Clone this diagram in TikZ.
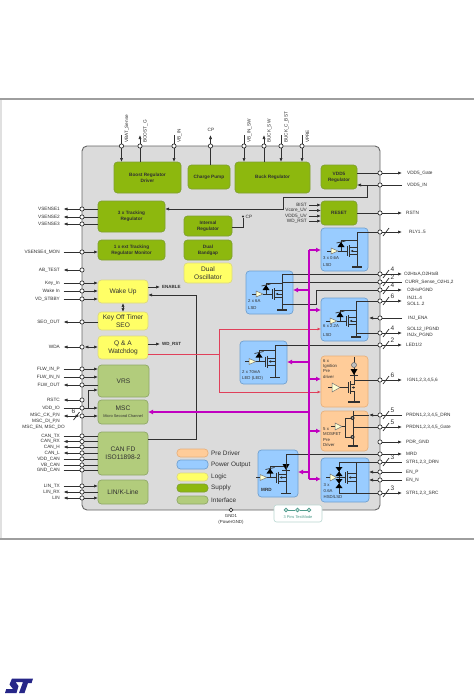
\documentclass[tikz,border=0pt]{standalone}
\usepackage{fontspec}
\setmainfont{Liberation Sans}
\usetikzlibrary{arrows.meta}
\definecolor{ln}{HTML}{303030}
\definecolor{mag}{HTML}{C000C0}
\definecolor{redl}{HTML}{E0405A}
\definecolor{gfill}{HTML}{8DB80E}\definecolor{gedge}{HTML}{7FA030}
\definecolor{yfill}{HTML}{FFFF66}\definecolor{yedge}{HTML}{DCD880}
\definecolor{ifill}{HTML}{B2CC7C}\definecolor{iedge}{HTML}{8FA868}
\definecolor{bfill}{HTML}{99CCFF}\definecolor{bedge}{HTML}{6FA0D0}
\definecolor{ofill}{HTML}{FFCC99}\definecolor{oedge}{HTML}{E8B07C}
\definecolor{teal1}{HTML}{4F9C8C}
\tikzset{
 x=1pt,y=-1pt,
 lbl/.style={font=\fontsize{4.7}{5.4}\selectfont,text=ln,inner sep=0pt,align=left},
 blab/.style={font=\fontsize{4.3}{5.4}\selectfont,text=ln,inner sep=0pt,align=left,anchor=west},
 num/.style={font=\fontsize{6.5}{7}\selectfont,text=ln,inner sep=0pt},
 pinc/.style={circle,draw=ln,fill=white,line width=.7pt,minimum size=4.2pt,inner sep=0pt},
 wire/.style={draw=ln,line width=.7pt},
 io/.style={wire,-{Latex[length=4pt,width=3.2pt]}},
 iob/.style={wire,{Latex[length=4pt,width=3.2pt]}-{Latex[length=4pt,width=3.2pt]}},
 bus/.style={draw=ln,line width=1pt},
 busa/.style={bus,-{Latex[length=4pt,width=3.2pt]}},
 magl/.style={draw=mag,line width=1.5pt},
 maga/.style={magl,-{Latex[length=5pt,width=5pt]}},
 redw/.style={draw=redl,line width=.8pt},
 reda/.style={redw,-{Latex[length=3.5pt,width=3pt]}},
 blkbase/.style={rounded corners=3.5pt,line width=.7pt,inner sep=0pt,outer sep=0pt,align=center},
 sup/.style={blkbase,fill=gfill,draw=gedge,font=\fontsize{4.7}{6}\selectfont\bfseries,text=ln},
 logic/.style={blkbase,fill=yfill,draw=yedge,font=\fontsize{6.6}{8}\selectfont,text=ln},
 intf/.style={blkbase,fill=ifill,draw=iedge,font=\fontsize{6.6}{8}\selectfont,text=ln},
 pwr/.style={blkbase,fill=bfill,draw=bedge},
 pre/.style={blkbase,fill=ofill,draw=oedge},
 fetl/.style={draw=ln,line width=.7pt},
 lsd/.pic={
  \draw[fill=yfill!30,draw=black!55,line width=.5pt] (10,20)--(17,23)--(10,26)--cycle;
  \draw[fetl] (6,23)--(10,23) (17,23)--(26,23) (26,18)--(26,28);
  \draw[ln,line width=1pt] (28,17)--(28,29);
  \draw[fetl] (28,19.5)--(36,19.5) (28,26.5)--(36,26.5) (36,17)--(36,39);
  \draw[fetl,-{Latex[length=2.5pt,width=2.5pt]}] (36,23)--(29.5,23);
  \draw[fetl] (20,23)--(20,12)--(36,12);
  \fill[black] (16.5,19)--(23.5,19)--(20,14)--cycle;
  \draw[fetl] (15.5,15)--(24.5,13);
  \draw[ln,line width=1.4pt] (31,39)--(41,39);
  \coordinate (-d) at (36,17);
  \coordinate (-s) at (36,33);
  \coordinate (-m) at (36,26);
 },
 ignsym/.pic={
  \draw[fill=yfill!30,draw=black!55,line width=.5pt] (11,27)--(19,31.5)--(11,36)--cycle;
  \draw[fetl] (7,31.5)--(11,31.5) (19,31.5)--(27,31.5) (27,26)--(27,37);
  \draw[ln,line width=1pt] (29,25)--(29,38);
  \draw[fetl] (29,28)--(33,28)--(33,1) (29,35)--(33,35)--(33,46);
  \draw[fetl,-{Latex[length=2.5pt,width=2.5pt]}] (33,31.5)--(30.5,31.5);
  \fill[black] (29.5,13)--(36.5,13)--(33,19)--cycle;
  \draw[fetl] (29,19.5)--(37,19.5);
  \node[circle,draw=black!60,fill=black!25,line width=.5pt,minimum size=5pt,inner sep=0pt] at (33,9) {};
  \draw[ln,line width=1.4pt] (27,46)--(39,46);
  \coordinate (-d) at (33,24);
 },
 prsym/.pic={
  \draw[fill=yfill!30,draw=black!55,line width=.5pt] (14,12)--(21,15.5)--(14,19)--cycle;
  \draw[fetl] (10,15.5)--(14,15.5) (21,15.5)--(24,15.5);
  \draw[fetl] (24,7)--(24,26) (24,7)--(31,7) (24,26)--(31,26);
  \draw[fetl] (32,0)--(32,35);
  \fill[ln] (31.5,7) circle (2pt) (31.5,26) circle (2pt);
  \fill[white] (31.5,7) circle (.7pt) (31.5,26) circle (.7pt);
  \draw[ln,line width=1.4pt] (27,35)--(37,35);
  \coordinate (-t) at (32,4);
  \coordinate (-c) at (32,16);
 },
 strsym/.pic={
  \draw[fill=yfill!30,draw=black!55,line width=.5pt] (9,16)--(15.5,19.5)--(9,23)--cycle;
  \draw[fetl] (5,19.5)--(9,19.5) (15.5,19.5)--(24,19.5) (24,14)--(24,25);
  \draw[ln,line width=1pt] (26,13)--(26,26);
  \draw[fetl] (18,4)--(18,35) (35,4)--(35,35);
  \draw[fetl] (26,15.5)--(35,15.5) (26,23.5)--(35,23.5);
  \draw[fetl,-{Latex[length=2.5pt,width=2.5pt]}] (35,19.5)--(27.5,19.5);
  \fill[black] (14.5,9)--(21.5,9)--(18,13.5)--cycle (14.5,18)--(21.5,18)--(18,13.5)--cycle;
  \fill[black] (14.5,21)--(21.5,21)--(18,25.5)--cycle (14.5,30)--(21.5,30)--(18,25.5)--cycle;
  \coordinate (-t) at (18,4);
  \coordinate (-b) at (18,35);
 },
}
\newcommand\blk[7]{\node[#6,minimum width={(#4-#2)*1pt},minimum height={(#5-#3)*1pt}] (#1) at ({(#2+#4)/2},{(#3+#5)/2}) {#7};}
\newcommand\lpin[3]{\node[pinc] (#1) at (82,#2) {};\node[lbl,anchor=east] (#1t) at (60,#2) {#3};\coordinate (#1e) at (63.5,#2);}
\newcommand\rpin[4]{\node[pinc] (#1) at (380,#2) {};\node[lbl,anchor=west] (#1t) at (#3,#2) {#4};\coordinate (#1e) at (402,#2);\coordinate (#1i) at (369,#2);}
\newcommand\tpin[3]{\node[pinc] (#1) at (#2,146) {};\node[lbl,rotate=90,anchor=west] (#1t) at (#2+5.5,143) {#3};\coordinate (#1e) at (#2,135);}
\newcommand\pinbar[2]{\draw[wire] ([shift={(3,4)}]#1.center) -- ([shift={(9,-4)}]#1.center);\node[num] (#1n) at ([shift={(12.5,-5)}]#1.center) {#2};}
\begin{document}
\begin{tikzpicture}
\useasboundingbox (0,0) rectangle (474,699);
\fill[white] (0,0) rectangle (474,699);
\fill[black!12] (0,99) rectangle (2,539);
\draw[black!38,line width=1.3pt] (0,99) -- (474,99);
\draw[black!38,line width=1.3pt] (0,539) -- (474,539);
% main body
\node[rounded corners=5pt,fill=black!14,draw=black!60,line width=.9pt,minimum width=298pt,minimum height=364pt,inner sep=0pt,outer sep=0pt] (body) at (231,328) {};
% blocks
\blk{boost}{114}{162}{181}{193}{sup}{Boost Regulator\\Driver}
\blk{pump}{188}{165}{230}{189}{sup}{Charge Pump}
\blk{buck}{235}{162}{310}{193}{sup}{Buck Regulator}
\blk{vdd}{321}{165}{357}{189}{sup}{VDD5\\Regulator}
\blk{reset}{321}{201}{357}{225}{sup}{RESET}
\blk{trk}{98}{201}{165}{232}{sup}{3 x Tracking\\Regulator}
\blk{intr}{184}{216}{232}{236}{sup}{Internal\\Regulator}
\blk{mon}{98}{240}{165}{260}{sup}{1 x ext Tracking\\Regulator Monitor}
\blk{gap}{184}{240}{232}{260}{sup}{Dual\\Bandgap}
\blk{osc}{184}{263}{232}{283}{logic}{Dual\\Oscillator}
\blk{wake}{98}{280}{148}{303}{logic}{Wake Up}
\blk{key}{98}{312}{148}{330}{logic}{Key Off Timer\\SEO}
\blk{qa}{98}{336}{148}{359}{logic}{Q \& A\\Watchdog}
\blk{vrs}{98}{365}{149}{397}{intf}{VRS}
\blk{msc}{98}{400}{148}{424}{intf}{MSC\\[-1pt]{\fontsize{3.9}{4.5}\selectfont Micro Second Channel}}
\blk{can}{98}{432}{148}{475}{intf}{CAN FD\\ISO11898-2}
\blk{lin}{98}{480}{148}{504}{intf}{LIN/K-Line}
\blk{rly}{321}{228}{368}{271}{pwr}{}
\blk{lsda}{246}{271}{293}{314}{pwr}{}
\blk{inj}{321}{298}{368}{341}{pwr}{}
\blk{led}{240}{341}{287}{384}{pwr}{}
\blk{ign}{321}{356}{368}{407}{pre}{}
\blk{prd}{321}{411}{368}{451}{pre}{}
\blk{mrd}{258}{450}{298}{497}{pwr}{}
\blk{str}{321}{458}{369}{502}{pwr}{}
% legend
\foreach \n/\a/\b/\s/\t in {la/449/457/pre/Pre Driver,lb/460/469/pwr/Power Output,lc/473/481/logic/Logic,ld/484/492/sup/Supply,le/496/504/intf/Interface}{
 \blk{\n}{177}{\a}{208}{\b}{\s}{}
 \node[anchor=west,inner sep=0pt,font=\fontsize{6.4}{7}\selectfont,text=ln] (\n t) at (211,{(\a+\b)/2}) {\t};
}
% test mode
\node[rounded corners=2.5pt,draw=teal1!40,fill=white,line width=.6pt,minimum width=48pt,minimum height=17pt,inner sep=0pt] (tm) at (298,513.5) {};
\node[font=\fontsize{3.9}{4.5}\selectfont,text=teal1,inner sep=0pt] (tmt) at (298,517.5) {3 Pins TestMode};
\foreach \n/\x in {tma/286,tmb/297.5,tmc/309}{\node[pinc,draw=teal1,fill=white!70!teal1,minimum size=3.6pt] (\n) at (\x,510) {};}
\draw[draw=teal1,line width=.5pt] (tma)--(tmb) (tmb)--(tmc);
% symbols
\pic (rs) at (321,228) {lsd};
\pic (ls) at (246,271) {lsd};
\pic (js) at (320,298) {lsd};
\pic (es) at (239,338.5) {lsd};
\pic (ms) at (250,454.5) {lsd};
\pic (gs) at (321,356) {ignsym};
\pic (ps) at (321,411) {prsym};
\pic (ss) at (321,458) {strsym};
\fill[black] (282.5,464) -- (289.5,464) -- (286,470) -- cycle;
\draw[fetl] (282,470.5)--(290,470.5);
% box captions
\node[blab] at (323,258) {3 x 0.6A};\node[blab] at (323,265) {LSD};
\node[blab] at (248,301) {2 x 6A};\node[blab] at (248,308) {LSD};
\node[blab] at (323,326) {6 x 2.2A};\node[blab] at (323,335) {LSD};
\node[blab] at (242,372) {2 x 70mA};\node[blab] at (242,378.5) {LED (LED)};
\node[blab] at (323,361) {6 x};\node[blab] at (323,366) {Ignition};\node[blab] at (323,371.5) {Pre};\node[blab] at (323,377) {driver};
\node[blab] at (323,429) {5 x};\node[blab] at (323,434.5) {MOSFET};\node[blab] at (323,440) {Pre};\node[blab] at (323,445) {Driver};
\node[blab] at (323.5,485) {3 x};\node[blab] at (323.5,491) {0.6A};\node[blab] at (323.5,496.5) {HSD/LSD};
\node[blab,font=\fontsize{4.6}{5}\selectfont\bfseries] at (261,490) {MRD};
% top pins
\tpin{ta}{121.5}{VBAT\_Sense}\tpin{tb}{140}{BOOST\_G}\tpin{tc}{174}{VB\_IN}
\node[pinc] (td) at (210.5,146) {};\coordinate (tde) at (210.5,135);\node[lbl] (tdt) at (211,130) {CP};
\tpin{te}{244}{VB\_IN\_SW}\tpin{tf}{264}{BUCK\_SW}\tpin{tg}{281}{BUCK\_C\_BST}\tpin{th}{302}{VPRE}
\draw[wire] (tae)--(ta);\draw[io] (ta)--(ta|-boost.north);
\draw[wire] (tb|-boost.north)--(tb);\draw[io] (tb)--(tbe);
\draw[wire] (tce)--(tc);\draw[io] (tc)--(tc|-boost.north);
\draw[wire] (pump.north-|td)--(td);\draw[io] (td)--(tde);
\draw[wire] (tee)--(te);\draw[io] (te)--(te|-buck.north);
\draw[wire] (tf|-buck.north)--(tf);\draw[io] (tf)--(tfe);
\draw[wire] (tge)--(tg);\draw[io] (tg)--(tg|-buck.north);
\draw[wire] (the)--(th);\draw[io] (th)--(th|-buck.north);
% left pins
\lpin{va}{209}{VSENSE1}\lpin{vb}{217}{VSENSE2}\lpin{vc}{224}{VSENSE3}
\foreach \p in {va,vb,vc}{\draw[wire] (trk.west|-\p)--(\p);\draw[io] (\p)--(\p e);}
\lpin{vd}{252}{VSENSE4\_MON}\draw[wire] (vde)--(vd);\draw[io] (vd)--(mon.west|-vd);
\lpin{ab}{270}{AB\_TEST}\draw[io] (ab)--(abe);
\lpin{ka}{283}{Key\_In}\lpin{kb}{291}{Wake In}\lpin{kc}{299}{VD\_STBBY}
\foreach \p in {ka,kb,kc}{\draw[wire] (\p e)--(\p);\draw[io] (\p)--(wake.west|-\p);}
\lpin{se}{322}{SEO\_OUT}\draw[wire] (key.west|-se)--(se);\draw[io] (se)--(see);
\lpin{wd}{347}{WDA}\draw[iob] (qa.west|-wd)--(wd);\draw[io] (wd)--(wde);
\lpin{fa}{369}{FLW\_IN\_P}\lpin{fb}{377}{FLW\_IN\_N}\lpin{fc}{385}{FLW\_OUT}
\foreach \p in {fa,fb}{\draw[wire] (\p e)--(\p);\draw[io] (\p)--(vrs.west|-\p);}
\draw[wire] (vrs.west|-fc)--(fc);\draw[io] (fc)--(fce);
\lpin{rs1}{400}{RSTC}\draw[io] (rs1)--(rs1e);
\lpin{vi}{408}{VDD\_IO}\draw[wire] (vie)--(vi);
\coordinate (vj) at (88,408);\coordinate (vk) at (88,390);
\draw[io] (vi)--(msc.west|-vi);
\draw[wire] (vj)--(vk);\draw[io] (vk)--(vrs.west|-vk);
\node[pinc] (mp) at (82,416) {};\coordinate (mpe) at (63.5,416);
\node[lbl,anchor=east] (mpa) at (60,415) {MSC\_CK\_P,N};
\node[lbl,anchor=east] (mpb) at (60,421) {MSC\_DI\_P,N};
\node[lbl,anchor=east] (mpc) at (65,427) {MSC\_EN, MSC\_DO};
\draw[iob] (mpe)--(mp);\draw[io] (mp)--(msc.west|-mp);
\draw[wire] (73.5,420)--(79.5,412);\node[num] (mpn) at (73.5,411.5) {6};
\lpin{ca}{436}{CAN\_TX}\lpin{cb}{441.5}{CAN\_RX}\lpin{cc}{447}{CAN\_H}\lpin{cd}{453}{CAN\_L}\lpin{ce}{459}{VDD\_CAN}\lpin{cf}{465}{VB\_CAN}\lpin{cg}{470}{GND\_CAN}
\foreach \p in {ca,ce,cf,cg}{\draw[wire] (\p e)--(\p);\draw[wire] (\p)--(can.west|-\p);}
\foreach \p in {cb,cc,cd}{\draw[wire] (can.west|-\p)--(\p);\draw[io] (\p)--(\p e);}
\lpin{la1}{486}{LIN\_TX}\lpin{lb1}{492}{LIN\_RX}\lpin{lc1}{498}{LIN}
\draw[wire] (la1e)--(la1);\draw[io] (la1)--(lin.west|-la1);
\draw[wire] (lin.west|-lb1)--(lb1);\draw[io] (lb1)--(lb1e);
\draw[io] (lc1)--(lc1e);\draw[io] (lc1)--(lin.west|-lc1);
% right pins
\rpin{ra}{173}{407}{VDD5\_Gate}\rpin{rb}{185}{407}{VDD5\_IN}\rpin{rc}{213}{406}{RSTN}\rpin{rd}{232}{409}{RLY1..5}
\rpin{re}{274}{404}{O2HtxA,O2HtxB}\rpin{rf}{282}{405}{CURR\_Sense\_O2H1,2}\rpin{rg}{290}{407}{O2HxPGND}
\rpin{rh}{301}{407}{}\node[lbl,anchor=west] (rht) at (407,298) {INJ1..4};\node[lbl,anchor=west] (rhu) at (407,304) {SOL1..2};
\rpin{ri}{318}{408}{INJ\_ENA}
\rpin{rj}{333}{407}{}\node[lbl,anchor=west] (rjt) at (407,329.5) {SOL12\_IPGND};\node[lbl,anchor=west] (rju) at (407,335.5) {INJx\_PGND};
\rpin{rk}{345}{406}{LED1/2}\rpin{rl}{380}{407}{IGN1,2,3,4,5,6}
\rpin{rm}{415}{406}{PRDN1,2,3,4,5\_DRN}\rpin{rn}{427}{406}{PRDN1,2,3,4,5\_Gate}\rpin{ro}{442}{406}{PDR\_GND}
\rpin{rp}{454}{406}{MRD}\rpin{rq}{462}{406}{STR1,2,3\_DRN}\rpin{rr}{472}{406}{EN\_P}\rpin{rs2}{480}{406}{EN\_N}\rpin{rt}{493}{406}{STR1,2,3\_SRC}
\draw[wire] (vdd.east|-ra)--(ra);\draw[io] (ra)--(rae);
\draw[wire] (rbe)--(rb);\draw[io] (rb)--(vdd.east|-rb);
\draw[wire] (reset.east|-rc)--(rc);\draw[io] (rc)--(rce);
\draw[bus] (rd) -| (rs-d);\draw[io] (rd)--(rde);\pinbar{rd}{}
\draw[bus] (re) -| (ls-d);\draw[io] (re)--(ree);\pinbar{re}{4}
\draw[wire] (rf) -- (rf-|ls-d);\draw[wire] (rf)--(rfe);\pinbar{rf}{2}
\coordinate (rgk) at (316,290);\coordinate (rgl) at (316,304);
\draw[bus] (rg)--(rgk)--(rgl)--(rgl-|ls-s);\draw[io] (rg)--(rge);\pinbar{rg}{4}
\draw[bus] (rh) -| (js-d);\draw[io] (rh)--(rhe);\pinbar{rh}{6}
\draw[wire] (rie)--(ri);\draw[io] (ri)--(rii);
\draw[bus] (rj) -- (rj-|js-d);\draw[io] (rj)--(rje);\pinbar{rj}{4}
\draw[bus] (rk) -| (es-d);\draw[io] (rk)--(rke);\pinbar{rk}{2}
\draw[bus] (rl) -- (rl-|gs-d);\draw[io] (rl)--(rle);\pinbar{rl}{6}
\draw[wire] (rme)--(rm);\draw[io] (rm)--(rmi);\draw[wire] (rmi)--(rmi-|ps-t);\pinbar{rm}{5}
\draw[wire] (rn)--(rn-|ps-c);\draw[io] (rn)--(rne);\pinbar{rn}{5}
\draw[io] (ro)--(roe);
\draw[bus] (rp) -| (ms-d);\draw[io] (rp)--(rpe);
\draw[bus] (rq) -| (ss-t);\draw[wire] (rq)--(rqe);\pinbar{rq}{3}
\draw[wire] (rre)--(rr);\draw[io] (rr)--(rri);
\draw[wire] (rs2e)--(rs2);\draw[io] (rs2)--(rs2i);
\draw[bus] (rt) -| (ss-b);\draw[io] (rt)--(rte);\pinbar{rt}{3}
% reset inputs
\foreach \n/\y/\t in {bi/205/BIST,bj/210.5/Vcore\_UV,bk/216/VDD5\_UV,bl/221/WD\_RST}{
 \node[lbl,anchor=east] (\n) at (307,\y) {\t};
 \draw[io] (\n.east)+(2,0) -- (\n-|reset.west);
}
% misc internal connectors
\coordinate (cpa) at (243,227);\node[circle,fill=ln,inner sep=0pt,minimum size=2.4pt] (cpb) at (243,216.5) {};
\node[lbl,anchor=west] (cpt) at (245.5,216.5) {CP};
\draw[bus] (intr.east|-cpa)--(cpa)--(cpb);
\coordinate (ba) at (367,185);\coordinate (bb) at (367,197);\coordinate (bc) at (283,197);\coordinate (bd) at (283,209);
\draw[busa] (ba)--(bb)--(bc)--(bd)--(bd-|trk.east);
\coordinate (wa) at (160,287);\node[lbl,anchor=west,font=\fontsize{4.5}{5}\selectfont\bfseries] (wat) at (162,287) {ENABLE};
\draw[io] (wake.east|-wa)--(wa);
\coordinate (wb) at (160,344);\node[lbl,anchor=west,font=\fontsize{4.5}{5}\selectfont\bfseries] (wbt) at (162,344) {WD\_RST};
\draw[io] (qa.east|-wb)--(wb);
\draw[iob] (wake.south-|key)--(key.north);
\coordinate (da) at (196,295);\coordinate (db) at (196,439);
\draw[busa] (can.east|-db)--(db)--(da)--(da-|wake.east);
% red
\coordinate (ra1) at (219,354);\coordinate (ra2) at (219,329);\coordinate (ra3) at (219,392);
\draw[redw] (qa.east|-ra1)--(ra1);\draw[redw] (ra2)--(ra3);
\draw[reda] (ra2)--(ra2-|inj.west);\draw[reda] (ra3)--(ra3-|ign.west);
% magenta
\coordinate (m0) at (309,250);\coordinate (m1) at (309,479);
\draw[magl] (m0)--(m1);
\coordinate (ma) at (309,290);\coordinate (mb) at (309,310);\coordinate (mc) at (309,362);\coordinate (md) at (309,379);\coordinate (me) at (309,412);\coordinate (mf) at (309,431);\coordinate (mg) at (309,472);
\draw[maga] (m0)--(m0-|rly.west);
\draw[maga] (ma)--(ma-|lsda.east);
\draw[maga] (mb)--(mb-|inj.west);
\draw[maga] (mc)--(mc-|led.east);
\draw[maga] (md)--(md-|ign.west);
\draw[maga] (me)--(me-|msc.east);
\draw[maga] (mf)--(mf-|prd.west);
\draw[maga] (mg)--(mg-|mrd.east);
\draw[maga] (m1)--(m1-|str.west);
% GND
\node[pinc,minimum size=3.6pt] (gnd) at (231,510) {};
\node[lbl,align=center,font=\fontsize{4.4}{6}\selectfont] (gndt) at (231,519.5) {GND1\\(PowerGND)};
% logo
\fill[blue!45!black!85] (12,678.5)--(33,678.5)--(31.6,683)--(28,683)--(24.5,693)--(19,693)--(23,682)--(15.5,682)--(18.5,686)--(16.5,693)--(5,693)--(6.3,689)--(13,689)--(9.5,684.5)--cycle;
\end{tikzpicture}
\end{document}
